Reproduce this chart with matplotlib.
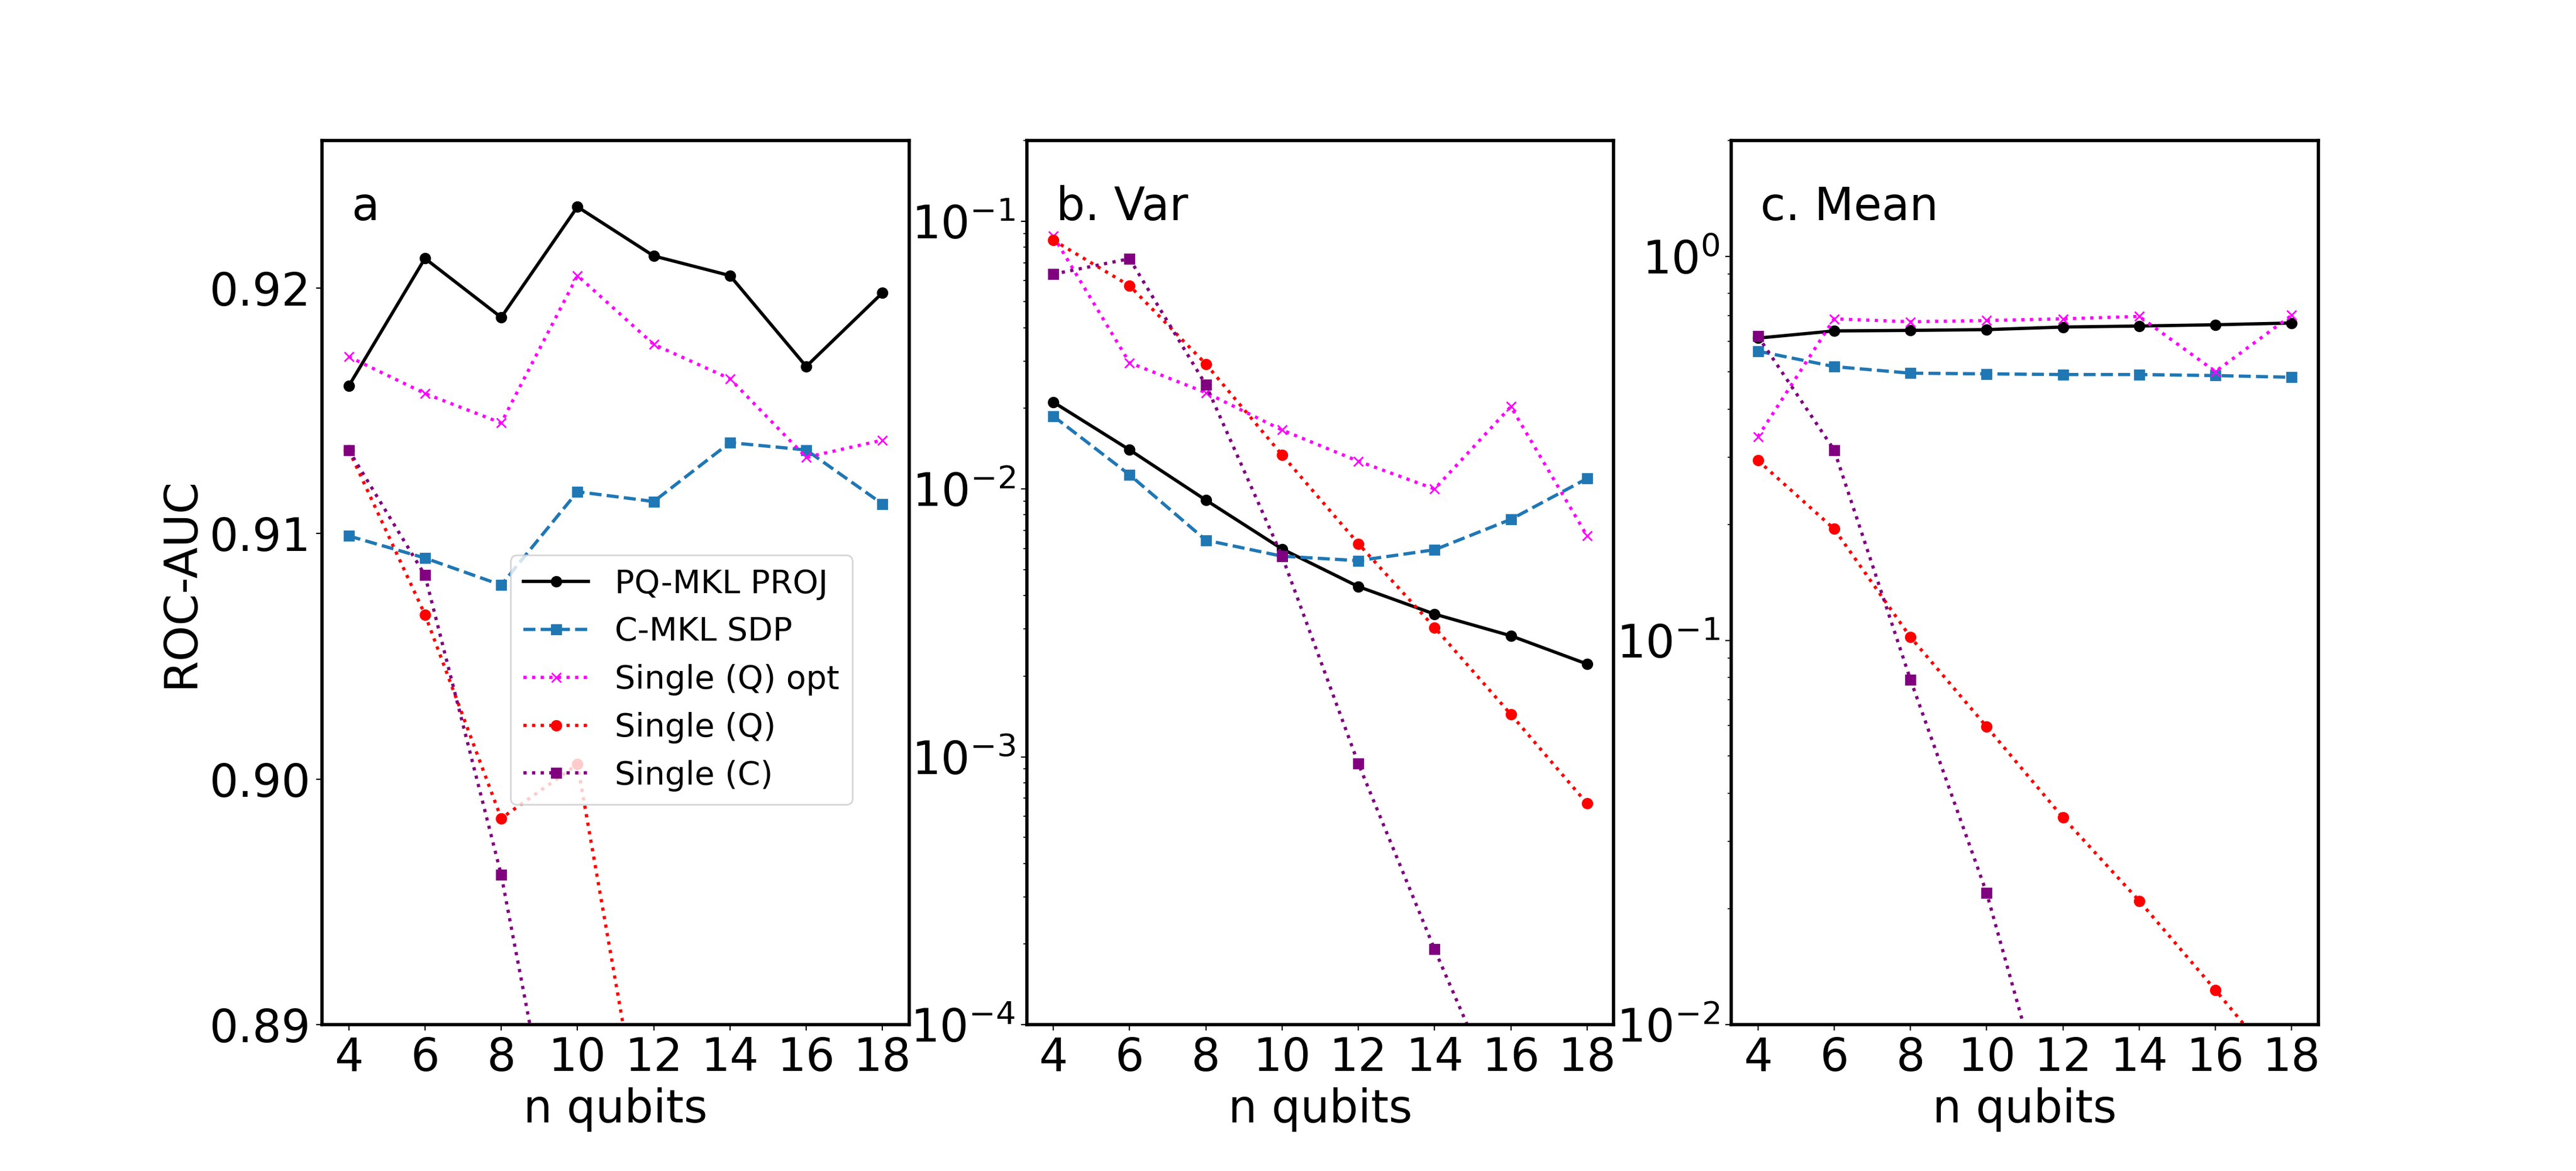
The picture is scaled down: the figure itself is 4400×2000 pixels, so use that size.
import numpy as np
import matplotlib
matplotlib.use("Agg")
import matplotlib.pyplot as plt

# number of qubits
n_qubits = [4, 6, 8, 10, 12, 14, 16, 18]

labels = ['PQ-MKL PROJ', 'C-MKL SDP', 'Single (Q) opt', 'Single (Q)', 'Single (C)']

# a. ROC-AUC
auc_pq_proj = [0.9160, 0.9212, 0.9188, 0.9233, 0.9213, 0.9205, 0.9168, 0.9198]
auc_c_sdp = [0.9099, 0.9090, 0.9079, 0.9117, 0.9113, 0.9137, 0.9134, 0.9112]
auc_single_q_opt = [0.9172, 0.9157, 0.9145, 0.9205, 0.9177, 0.9163, 0.9131, 0.9138]
auc_single_q = [0.9134, 0.9067, 0.8984, 0.9006, 0.8829, 0.870, 0.860, 0.850]
auc_single_c = [0.9134, 0.9083, 0.8961, 0.8799, 0.860, 0.850, 0.840, 0.830]

# b. Var
var_pq_proj = [0.0211, 0.0140, 0.00909, 0.00597, 0.00432, 0.00341, 0.00283, 0.00222]
var_c_sdp = [0.0187, 0.0113, 0.00644, 0.00561, 0.00540, 0.00593, 0.00770, 0.01094]
var_single_q_opt = [0.0879, 0.0296, 0.0229, 0.0166, 0.0127, 0.0100, 0.0203, 0.00668]
var_single_q = [0.0849, 0.0574, 0.0293, 0.0134, 0.00625, 0.00304, 0.00144, 0.000669]
var_single_c = [0.0634, 0.0724, 0.0245, 0.00561, 0.000944, 0.000191, 0.000042, 0.00001]

# c. Mean
mean_pq_proj = [0.612, 0.639, 0.641, 0.644, 0.654, 0.658, 0.663, 0.670]
mean_c_sdp = [0.566, 0.516, 0.496, 0.494, 0.492, 0.492, 0.489, 0.484]
mean_single_q_opt = [0.339, 0.687, 0.675, 0.680, 0.687, 0.697, 0.501, 0.702]
mean_single_q = [0.294, 0.195, 0.102, 0.0596, 0.0346, 0.0210, 0.0123, 0.0071]
mean_single_c = [0.619, 0.313, 0.0791, 0.0220, 0.0043, 0.0009, 0.0002, 0.00004]

colors = ['black', 'tab:blue', 'magenta', 'red', 'purple']
styles = ['-', '--', ':', ':', ':']
markers = ['o', 's', 'x', 'o', 's']

plt.rcParams['font.size'] = 28
plt.rcParams['axes.linewidth'] = 2

fig, axes = plt.subplots(1, 3, figsize=(22, 10), dpi=200)
fig.subplots_adjust(left=0.125, right=0.9, top=0.88, bottom=0.125, wspace=0.2)

panels = [
    [auc_pq_proj, auc_c_sdp, auc_single_q_opt, auc_single_q, auc_single_c],
    [var_pq_proj, var_c_sdp, var_single_q_opt, var_single_q, var_single_c],
    [mean_pq_proj, mean_c_sdp, mean_single_q_opt, mean_single_q, mean_single_c],
]
titles = ['a', 'b. Var', 'c. Mean']

for ax, series, title in zip(axes, panels, titles):
    for values, lab, c, ls, m in zip(series, labels, colors, styles, markers):
        ax.plot(n_qubits, values, color=c, linestyle=ls, marker=m, lw=2, label=lab)
    ax.set_xticks(n_qubits)
    ax.set_xlabel('n qubits')
    ax.text(0.05, 0.91, title, transform=ax.transAxes)

# panel a
axes[0].set_ylim(0.89, 0.926)
axes[0].set_yticks([0.89, 0.90, 0.91, 0.92])
axes[0].set_ylabel('ROC-AUC')
axes[0].legend(fontsize=20, loc='lower left', bbox_to_anchor=(0.321, 0.249),
               borderaxespad=0)

# panel b
axes[1].set_yscale('log')
axes[1].set_ylim(1e-4, 2e-1)

# panel c
axes[2].set_yscale('log')
axes[2].set_ylim(1e-2, 2)

plt.savefig('out.png')
